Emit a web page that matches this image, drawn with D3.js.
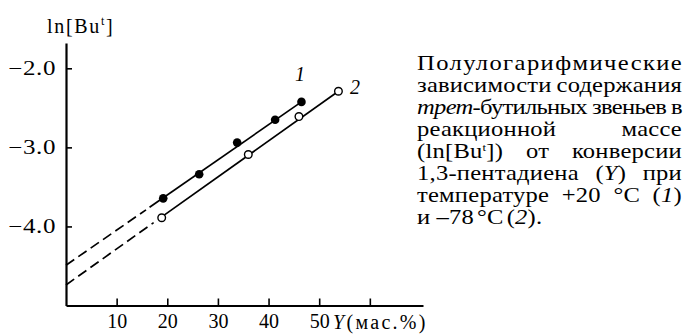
<!DOCTYPE html>
<html><head><meta charset="utf-8">
<script src="https://cdn.jsdelivr.net/npm/d3@7"></script>
<style>
html,body{margin:0;padding:0;background:#fff;}
svg{display:block;}
</style></head>
<body>
<svg id="c" width="685" height="334"></svg>
<script>
// ---- data ----
const series1X = [19.2, 26.3, 33.8, 41.3, 46.5];
const series1Y = [-3.645, -3.34, -2.94, -2.65, -2.425];
const series2X = [18.9, 36.0, 46.0, 53.8];
const series2Y = [-3.89, -3.09, -2.61, -2.29];
const line1DashX = [0, 15.8];
const line1DashY = [-4.49, -3.79];
const line1SolidX = [16.5, 46.5];
const line1SolidY = [-3.757, -2.425];
const line2DashX = [0, 17.3];
const line2DashY = [-4.74, -3.952];
const line2SolidX = [18.9, 53.8];
const line2SolidY = [-3.879, -2.29];
const xTicks = [10, 20, 30, 40, 50, 60];
const xTickLabels = ["10", "20", "30", "40", "50", ""];
const yTicks = [-2, -3, -4];
const yTickLabels = ["\u22122.0", "\u22123.0", "\u22124.0"];
const seriesLabels = ["1", "2"];

const FONT = "Liberation Serif, Times New Roman, serif";
const svg = d3.select("#c");

const x = d3.scaleLinear().domain([0, 70.5]).range([66, 423]);
const y = d3.scaleLinear().domain([-5, -1.68]).range([305.5, 43]);

// axes
const yAxis = d3.axisLeft(y).tickValues(yTicks)
  .tickFormat((d,i)=>yTickLabels[i]).tickSizeInner(-6).tickSizeOuter(0).tickPadding(8);
const gy = svg.append("g").attr("transform","translate(66,0)").call(yAxis)
  .attr("font-family",FONT).attr("font-size",20);
gy.select(".domain").attr("stroke","#000").attr("stroke-width",2.2);
gy.selectAll(".tick line").attr("stroke","#000").attr("stroke-width",1.6);
gy.selectAll(".tick text").attr("fill","#000")
  .attr("transform","scale(1.25,1)").attr("letter-spacing","0.5px");

const xAxis = d3.axisBottom(x).tickValues(xTicks)
  .tickFormat((d,i)=>xTickLabels[i]).tickSizeInner(-7).tickSizeOuter(0).tickPadding(8);
const gx = svg.append("g").attr("transform","translate(0,305.5)").call(xAxis)
  .attr("font-family",FONT).attr("font-size",20);
gx.select(".domain").attr("stroke","#000").attr("stroke-width",2.2);
gx.selectAll(".tick line").attr("stroke","#000").attr("stroke-width",1.6);
gx.selectAll(".tick text").attr("fill","#000");

// axis titles
const yt = svg.append("text").attr("x",47).attr("y",33)
  .attr("font-family",FONT).attr("font-size",20).attr("letter-spacing","1.7px");
yt.append("tspan").text("ln[Bu");
yt.append("tspan").attr("font-size",12).attr("dy",-8).text("t");
yt.append("tspan").attr("dy",8).text("]");

const xt = svg.append("text").attr("x",333).attr("y",329)
  .attr("font-family",FONT).attr("font-size",20).attr("letter-spacing","2.3px");
xt.append("tspan").attr("font-style","italic").text("Y");
xt.append("tspan").text("(мас.%)");

// lines
const line = d3.line().x(d=>x(d[0])).y(d=>y(d[1]));
function drawLine(xs, ys, dashed){
  svg.append("path").datum(xs.map((v,i)=>[v,ys[i]]))
    .attr("d",line).attr("fill","none").attr("stroke","#000")
    .attr("stroke-width",1.7).attr("stroke-dasharray",dashed?"10,5":null);
}
drawLine(line1DashX, line1DashY, true);
drawLine(line1SolidX, line1SolidY, false);
drawLine(line2DashX, line2DashY, true);
drawLine(line2SolidX, line2SolidY, false);

// points
svg.append("g").selectAll("circle").data(series1X.map((v,i)=>[v,series1Y[i]]))
  .join("circle").attr("cx",d=>x(d[0])).attr("cy",d=>y(d[1])).attr("r",4.3)
  .attr("fill","#000");
svg.append("g").selectAll("circle").data(series2X.map((v,i)=>[v,series2Y[i]]))
  .join("circle").attr("cx",d=>x(d[0])).attr("cy",d=>y(d[1])).attr("r",3.8)
  .attr("fill","#fff").attr("stroke","#000").attr("stroke-width",1.4);

// series labels
svg.append("text").attr("x",300).attr("y",81).attr("text-anchor","middle")
  .attr("font-family",FONT).attr("font-style","italic").attr("font-size",20).text(seriesLabels[0]);
svg.append("text").attr("x",350).attr("y",94)
  .attr("font-family",FONT).attr("font-style","italic").attr("font-size",20).text(seriesLabels[1]);

// caption (justified)
const captionLines = [
  [[["Полулогарифмические",""]]],
  [[["зависимости",""]],[["содержания",""]]],
  [[["трет","i"],["-бутильных",""]],[["звеньев",""]],[["в",""]]],
  [[["реакционной",""]],[["массе",""]]],
  [[["(ln[Bu",""],["t","s"],["])",""]],[["от",""]],[["конверсии",""]]],
  [[["1,3-пентадиена",""]],[["(",""],["Y","i"],[")",""]],[["при",""]]],
  [[["температуре",""]],[["+20",""]],[["°C",""]],[["(",""],["1","i"],[")",""]]],
  [[["и",""]],[["–78",""]],[["°C",""]],[["(",""],["2","i"],[").",""]]]
];
const capLeft = 417, capRight = 682, capTop = 70, capStep = 22;
const SX = 1.17;
captionLines.forEach((words, li)=>{
  const yb = capTop + li*capStep;
  const last = li === captionLines.length-1;
  let ls = 0.2;
  const g = svg.append("g");
  function build(lsv){
    g.selectAll("*").remove();
    return words.map(w=>{
      const t = g.append("text").attr("x",0).attr("y",0).attr("font-family",FONT)
        .attr("font-size",21).attr("letter-spacing",lsv+"px");
      let sup=false;
      w.forEach(([s,st])=>{
        const ts = t.append("tspan").text(s);
        if(st==="i") ts.attr("font-style","italic");
        if(st==="s"){ ts.attr("font-size",11).attr("dy",-7); sup=true; }
        else if(sup){ ts.attr("dy",7); sup=false; }
      });
      return t;
    });
  }
  let texts = build(ls);
  let widths = texts.map(t=>t.node().getComputedTextLength()*SX);
  let total = d3.sum(widths);
  const W = capRight - capLeft;
  const place = (t,cx)=>t.attr("transform",`translate(${cx},${yb}) scale(${SX},1)`);
  if(last){
    const lastGaps = [6, 3, 3];
    let cx = capLeft;
    texts.forEach((t,i)=>{ place(t,cx); cx += widths[i] + (lastGaps[i]||4); });
    return;
  }
  if(words.length===1){
    texts[0].attr("textLength",W/SX).attr("lengthAdjust","spacing");
    place(texts[0],capLeft);
    return;
  }
  const minGap = 5;
  if(total + minGap*(words.length-1) > W){
    const nChars = d3.sum(words, w=>d3.sum(w, s=>s[0].length));
    ls = ls - (total + minGap*(words.length-1) - W)/nChars/SX;
    texts = build(ls);
    widths = texts.map(t=>t.node().getComputedTextLength()*SX);
    total = d3.sum(widths);
  }
  const gap = (W - total)/(words.length-1);
  let cx = capLeft;
  texts.forEach((t,i)=>{ place(t,cx); cx += widths[i] + gap; });
});
</script>
</body></html>
